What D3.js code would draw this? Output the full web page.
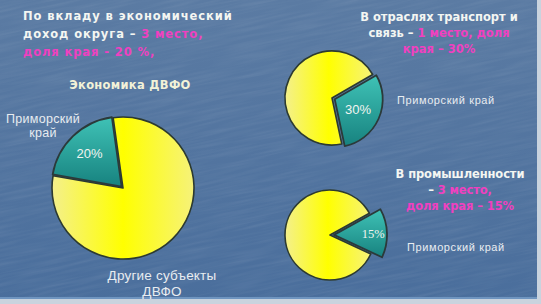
<!DOCTYPE html>
<html>
<head>
<meta charset="utf-8">
<script src="https://cdn.jsdelivr.net/npm/d3@7"></script>
<style>
  body { margin: 0; background: #4d6f9b; }
  svg { display: block; }
</style>
</head>
<body>
<svg id="chart" width="541" height="304"></svg>
<script>
const svg = d3.select("#chart");
const width = +svg.attr("width");
const height = +svg.attr("height");

// data
const sectors = ["Экономика ДВФО", "Транспорт и связь", "Промышленность"];
const regionShare = [20, 30, 15];
const otherShare = [80, 70, 85];
const sliceNames = ["Приморский край", "Другие субъекты ДВФО"];
const pctLabels = ["20%", "30%", "15%"];

// layout for each pie (positions only)
const pieLayout = [
  { cx: 123, cy: 188, r: 71, rTeal: 70, start: -80, explode: 2, labelK: 0.66 },
  { cx: 332, cy: 98, r: 47, rTeal: 48, start: 60, explode: 3, labelK: 0.53 },
  { cx: 330, cy: 235, r: 45, rTeal: 53, start: 61, explode: 4, labelK: 0.74 }
];

const defs = svg.append("defs");

const bg = defs.append("linearGradient")
  .attr("id", "bg")
  .attr("x1", 0).attr("y1", 0).attr("x2", 0).attr("y2", 1);
bg.append("stop").attr("offset", "0%").attr("stop-color", "#5b7ba3");
bg.append("stop").attr("offset", "100%").attr("stop-color", "#4a6e9c");

const yellow = defs.append("linearGradient")
  .attr("id", "yellow")
  .attr("x1", 0).attr("y1", 0).attr("x2", 1).attr("y2", 0);
yellow.append("stop").attr("offset", "0%").attr("stop-color", "#f4f08c");
yellow.append("stop").attr("offset", "50%").attr("stop-color", "#ffff00");
yellow.append("stop").attr("offset", "100%").attr("stop-color", "#f6f27a");

const teal = defs.append("linearGradient")
  .attr("id", "teal")
  .attr("x1", 0).attr("y1", 0).attr("x2", 0).attr("y2", 1);
teal.append("stop").attr("offset", "0%").attr("stop-color", "#3fc2b6");
teal.append("stop").attr("offset", "100%").attr("stop-color", "#17827f");

const noise = defs.append("filter").attr("id", "noise")
  .attr("x", 0).attr("y", 0).attr("width", "100%").attr("height", "100%");
noise.append("feTurbulence")
  .attr("type", "fractalNoise")
  .attr("baseFrequency", "0.02 0.35")
  .attr("numOctaves", 2)
  .attr("seed", 4);
noise.append("feColorMatrix")
  .attr("type", "matrix")
  .attr("values", "0 0 0 0 1  0 0 0 0 1  0 0 0 0 1  0 0 0 0.22 -0.08");

svg.append("rect")
  .attr("width", width).attr("height", height)
  .attr("fill", "url(#bg)");
svg.append("rect")
  .attr("x", -60).attr("y", -60)
  .attr("width", width + 120).attr("height", height + 120)
  .attr("filter", "url(#noise)")
  .attr("transform", "rotate(-12," + width / 2 + "," + height / 2 + ")")
  .attr("opacity", 0.6);

// light frame on right and bottom edges
svg.append("rect").attr("x", width - 4).attr("y", 0)
  .attr("width", 4).attr("height", height).attr("fill", "#c9d3de");
svg.append("rect").attr("x", 0).attr("y", height - 5)
  .attr("width", width).attr("height", 5).attr("fill", "#c9d3de");
svg.append("rect").attr("x", 0).attr("y", height - 7)
  .attr("width", width - 4).attr("height", 2).attr("fill", "#6f95c0");

function drawPie(i) {
  const p = pieLayout[i];
  const data = [
    { name: sliceNames[0], value: regionShare[i] },
    { name: sliceNames[1], value: otherShare[i] }
  ];
  const start = p.start * Math.PI / 180;
  const pie = d3.pie()
    .sort(null)
    .value(d => d.value)
    .startAngle(start)
    .endAngle(start + 2 * Math.PI);
  const arcs = pie(data);

  const g = svg.append("g")
    .attr("transform", "translate(" + p.cx + "," + p.cy + ")");

  const other = arcs[1];
  g.append("path")
    .attr("d", d3.arc().innerRadius(0).outerRadius(p.r)(other))
    .attr("fill", "url(#yellow)")
    .attr("stroke", "#2c3a30")
    .attr("stroke-width", 1.6)
    .attr("stroke-linejoin", "round");

  const reg = arcs[0];
  const mid = (reg.startAngle + reg.endAngle) / 2;
  const dx = Math.sin(mid) * p.explode;
  const dy = -Math.cos(mid) * p.explode;
  const tealArc = d3.arc().innerRadius(0).outerRadius(p.rTeal);
  g.append("path")
    .attr("transform", "translate(" + dx + "," + dy + ")")
    .attr("d", tealArc(reg))
    .attr("fill", "url(#teal)")
    .attr("stroke", "#2b3a3a")
    .attr("stroke-width", 1.8)
    .attr("stroke-linejoin", "round");

  const c = d3.arc().innerRadius(0).outerRadius(p.rTeal * p.labelK * 2).centroid(reg);
  g.append("text")
    .attr("x", c[0] + dx)
    .attr("y", c[1] + dy)
    .attr("dy", "0.35em")
    .attr("text-anchor", "middle")
    .attr("fill", "#f2f4f0")
    .attr("font-family", i === 2 ? "Liberation Serif, serif" : "Liberation Sans, Arial, sans-serif")
    .attr("font-size", i === 2 ? "12.5px" : "13px")
    .text(pctLabels[i]);
}

pieLayout.forEach((p, i) => drawPie(i));

// titles
function titleLines(lines, x, y, step, anchor, spacing) {
  const t = svg.append("text")
    .attr("font-family", "DejaVu Sans, Verdana, sans-serif")
    .attr("font-weight", "bold")
    .attr("font-size", "11.5px")
    .attr("letter-spacing", spacing + "px")
    .attr("text-anchor", anchor);
  lines.forEach((line, k) => {
    const ts = t.append("tspan").attr("x", x).attr("y", y + k * step);
    line.forEach(part => {
      ts.append("tspan")
        .attr("fill", part[1] ? "#f040c0" : "#f4f6f2")
        .text(part[0]);
    });
  });
}

titleLines([
  [["По вкладу в экономический", false]],
  [["доход округа – ", false], ["3 место,", true]],
  [["доля края - 20 %,", true]]
], 23, 20, 18, "start", 0.9);

titleLines([
  [["В отраслях транспорт и", false]],
  [["связь – ", false], ["1 место, доля", true]],
  [["края – 30%", true]]
], 439, 21, 16, "middle", 0);

titleLines([
  [["В промышленности", false]],
  [["– ", false], ["3 место,", true]],
  [["доля края – 15%", true]]
], 460, 178, 16, "middle", -0.1);

svg.append("text")
  .attr("x", 130).attr("y", 89)
  .attr("text-anchor", "middle")
  .attr("font-family", "DejaVu Sans, Verdana, sans-serif")
  .attr("font-weight", "bold")
  .attr("font-size", "11.5px")
  .attr("letter-spacing", "0.3px")
  .attr("fill", "#f2f2d8")
  .text(sectors[0]);

// slice labels
const labelFont = "Liberation Sans, Arial, sans-serif";
function label(txt, x, y, anchor, size, spacing) {
  svg.append("text")
    .attr("x", x).attr("y", y)
    .attr("text-anchor", anchor)
    .attr("font-family", labelFont)
    .attr("font-size", size)
    .attr("letter-spacing", spacing + "px")
    .attr("fill", "#e8ecf0")
    .text(txt);
}

label("Приморский", 43, 123, "middle", "12.5px", 0.3);
label("край", 43, 137, "middle", "12.5px", 0.3);
label("Другие субъекты", 162, 280, "middle", "13.5px", 0.2);
label("ДВФО", 162, 296, "middle", "13.5px", 0.2);
label(sliceNames[0], 397, 104, "start", "11px", 0.6);
label(sliceNames[0], 407, 251, "start", "11px", 0.6);
</script>
</body>
</html>
